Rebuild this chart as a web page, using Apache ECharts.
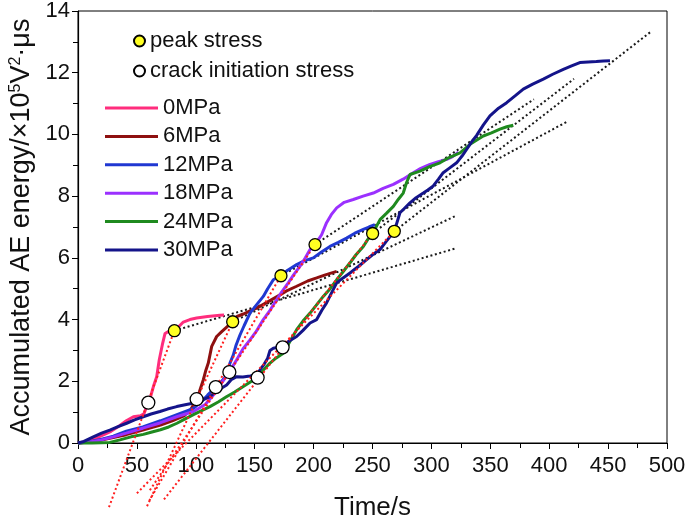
<!DOCTYPE html>
<html>
<head>
<meta charset="utf-8">
<script src="https://cdn.jsdelivr.net/npm/echarts@6/dist/echarts.min.js"></script>
<style>
html,body{margin:0;padding:0;background:#fff;}
#chart{width:685px;height:524px;}
</style>
</head>
<body>
<div id="chart"></div>
<script>
// ---- data (time in s, accumulated AE energy in 1e5 V^2·us) ----
const seriesNames = ['0MPa','6MPa','12MPa','18MPa','24MPa','30MPa'];
const xTicks = [0,50,100,150,200,250,300,350,400,450,500];
const yTicks = [0,2,4,6,8,10,12,14];

const curve0 = [[0,0],[8,0.05],[15,0.15],[22,0.27],[28,0.38],[35,0.55],[41,0.72],[47,0.85],[53,0.88],[56,0.95],[58,1.15],[60,1.33],[62,1.55],[64,1.83],[66.8,2.15],[69,2.7],[71.9,3.24],[73.9,3.55],[76,3.6],[79,3.62],[81.8,3.64],[85,3.75],[89.4,3.92],[95,4.0],[100.7,4.05],[110,4.1],[120.5,4.14],[124,4.15]];
const curve6 = [[0,0],[10,0.03],[20,0.1],[30,0.18],[41,0.27],[55,0.42],[70,0.58],[80,0.72],[90,0.88],[96,1.1],[100.7,1.42],[103,1.65],[106.4,2.05],[108.5,2.35],[110.6,2.59],[113.5,3.13],[117.7,3.45],[122,3.61],[126,3.75],[131.3,3.93],[135,4.1],[140.3,4.18],[146,4.28],[151.7,4.37],[160,4.55],[171.5,4.8],[178,4.95],[185.6,5.08],[195,5.25],[202.6,5.35],[210,5.45],[219.6,5.56]];
const curve12 = [[0,0],[10,0.04],[20,0.12],[30,0.22],[41,0.38],[55,0.52],[70,0.72],[84,0.92],[98,1.12],[105,1.35],[110,1.55],[116.9,1.81],[122,2.0],[126.2,2.2],[129,2.59],[131.8,2.85],[134,3.15],[137.5,3.5],[141,3.8],[146,4.21],[151,4.45],[157.3,4.75],[161,5.0],[165.8,5.29],[172.3,5.42],[178,5.6],[185.6,5.78],[192,5.9],[199.7,6.0],[207,6.2],[213.9,6.37],[221,6.5],[228,6.64],[235,6.8],[242.2,6.92],[247,7.0],[252,7.08]];
const curve18 = [[0,0],[10,0.03],[20,0.1],[30,0.2],[41,0.32],[55,0.48],[69.6,0.65],[83.8,0.85],[98,1.02],[108,1.25],[116,1.6],[122,1.95],[128.5,2.3],[134.7,2.7],[140,3.05],[146,3.34],[151,3.6],[157.3,4.0],[163,4.3],[168.6,4.64],[173,4.9],[178.5,5.19],[183,5.45],[188.5,5.73],[193,6.0],[197,6.27],[201.2,6.43],[206.8,6.75],[211,7.14],[215,7.4],[219.6,7.62],[226,7.8],[233.7,7.89],[242,8.0],[250.7,8.1],[259,8.25],[267.7,8.38],[276,8.55],[284.6,8.76],[291,8.9],[298.8,9.03],[306,9.12],[313,9.19],[318,9.28],[323,9.42]];
const curve24 = [[0,0],[12,0],[27,0.02],[35.6,0.1],[45,0.2],[55.5,0.28],[62,0.35],[70,0.43],[77,0.52],[84,0.64],[91,0.78],[98,0.92],[105,1.05],[112,1.18],[119,1.33],[126,1.5],[133,1.65],[140.3,1.83],[146,1.97],[152.5,2.12],[157,2.35],[163,2.59],[168,2.75],[174.3,2.91],[180,3.3],[185.6,3.67],[191,3.95],[197,4.21],[202,4.45],[208.2,4.75],[214,5.0],[219.6,5.29],[225,5.55],[230.9,5.84],[236,6.1],[242.2,6.37],[246,6.6],[250.1,6.79],[256.4,7.24],[262,7.45],[267.7,7.67],[272,7.9],[276.1,8.1],[279,8.45],[281.8,8.7],[290.3,8.81],[298,8.95],[307.3,9.08],[315,9.25],[324.3,9.4],[332.8,9.68],[344,9.95],[351,10.05],[358.2,10.17],[364,10.25],[369.5,10.3]];
const curve30 = [[0,0],[5,0.05],[13,0.2],[20,0.32],[27,0.42],[34,0.53],[41.3,0.64],[48,0.75],[55.4,0.85],[62,0.94],[69.6,1.02],[76,1.1],[83.8,1.18],[92,1.25],[100.7,1.31],[106,1.4],[112,1.5],[118,1.7],[122,1.78],[126.2,1.88],[130,2.05],[134.7,2.15],[140,2.14],[146,2.17],[151.7,2.2],[155,2.4],[158,2.55],[161,2.75],[163,3.0],[165.8,3.07],[170,3.1],[173.7,3.12],[179,3.3],[185.6,3.45],[191,3.65],[197,3.89],[202.6,4.0],[207,4.3],[211,4.54],[215,4.85],[219.6,5.19],[225,5.35],[230.9,5.51],[238,5.72],[245,5.94],[250,6.1],[256.4,6.27],[262,6.55],[268.5,6.86],[273.3,7.46],[277,7.6],[281.8,7.78],[287,7.95],[293.1,8.1],[297,8.2],[301.6,8.33],[306,8.55],[310,8.76],[315,8.9],[321.4,9.08],[326,9.3],[330,9.52],[334,9.75],[338.4,9.97],[344,10.3],[349.7,10.6],[357,10.85],[363.9,11.03],[371,11.25],[378,11.47],[386,11.63],[395,11.79],[403,11.95],[412,12.11],[419,12.22],[426,12.33],[433,12.35],[440,12.36],[446,12.38],[451.6,12.39]];

const peakPoints  = [[81.8,3.64],[131.3,3.93],[172.3,5.42],[201.2,6.43],[250.1,6.79],[268.5,6.86]];
const crackPoints = [[59.7,1.31],[100.7,1.42],[116.9,1.81],[128.5,2.30],[152.5,2.12],[173.7,3.10]];
// red dotted pre-peak fits: start point (below axis) -> peak
const redStart  = [[26.3,-2.08],[58.6,-2.05],[60.5,-1.87],[61,-1.53],[73,-1.83],[50,-1.63]];
// black dotted post-peak fits: peak -> end point
const blackEnd  = [[320,6.3],[320,7.35],[415,10.41],[387,11.14],[421,11.8],[487,13.35]];

// ---- styles ----
const curves = [curve0,curve6,curve12,curve18,curve24,curve30];
const colors = ['#ff2d7d','#8e1010','#2038d2','#9b30ff','#1f8a1f','#14148a'];
const FONT = 'Liberation Sans, Arial, sans-serif';

const series = [];
for (let i=0;i<6;i++){
  series.push({
    name:'fitB'+i, type:'line', data:[peakPoints[i], blackEnd[i]],
    symbol:'none', silent:true, z:3, clip:false,
    lineStyle:{color:'#1a1a1a', width:2, type:[2,2.6]}
  });
}
for (let i=0;i<6;i++){
  series.push({
    name:seriesNames[i], type:'line', data:curves[i],
    symbol:'none', z:4, clip:false,
    lineStyle:{color:colors[i], width:3},
    itemStyle:{color:colors[i]}
  });
}
for (let i=0;i<6;i++){
  series.push({
    name:'fitR'+i, type:'line', data:[redStart[i], peakPoints[i]],
    symbol:'none', silent:true, z:5, clip:false,
    lineStyle:{color:'#ff1e1e', width:2, type:[2,2.6]}
  });
}
series.push({
  name:'peak stress', type:'scatter', data:peakPoints, symbol:'circle', symbolSize:12, z:6,
  itemStyle:{color:'#ffff22', borderColor:'#000', borderWidth:1.3, opacity:1}
});
series.push({
  name:'crack initiation stress', type:'scatter', data:crackPoints, symbol:'circle', symbolSize:13, z:6,
  itemStyle:{color:'#ffffff', borderColor:'#000', borderWidth:1.3, opacity:1}
});

const chart = echarts.init(document.getElementById('chart'), null, {renderer:'canvas'});
chart.setOption({
  animation:false,
  backgroundColor:'#fff',
  textStyle:{fontFamily:FONT},
  grid:{left:78, right:18, top:11, bottom:81, show:true, borderColor:'#000', borderWidth:1,
        containLabel:false, outerBoundsMode:'none'},
  legend:[
    {
      data:['peak stress','crack initiation stress'], orient:'vertical', left:133, top:30,
      padding:0, itemWidth:11, itemHeight:11, itemGap:8, selectedMode:false,
      textStyle:{fontSize:22, lineHeight:22, color:'#111', fontFamily:FONT}
    },
    {
      data:seriesNames, orient:'vertical', left:105, top:97,
      padding:0, icon:'rect', itemWidth:53, itemHeight:3, itemGap:6.4, selectedMode:false,
      textStyle:{fontSize:22, lineHeight:22, color:'#111', fontFamily:FONT}
    }
  ],
  xAxis:{
    type:'value', min:xTicks[0], max:xTicks[xTicks.length-1], interval:50,
    name:'Time/s', nameLocation:'middle', nameGap:52,
    nameTextStyle:{fontSize:26, color:'#111', fontFamily:FONT},
    axisLine:{show:true, onZero:false, lineStyle:{color:'#000', width:1.2}},
    axisTick:{show:true, length:6, lineStyle:{color:'#000'}},
    minorTick:{show:true, splitNumber:2, length:5, lineStyle:{color:'#000'}},
    splitLine:{show:false},
    axisLabel:{fontSize:22, color:'#111', margin:12, fontFamily:FONT}
  },
  yAxis:{
    type:'value', min:yTicks[0], max:yTicks[yTicks.length-1], interval:2,
    name:'{a|Accumulated AE energy/×10}{s|5}{a|V}{s|2}{a|·μs}',
    nameLocation:'middle', nameGap:34, nameRotate:90,
    nameTextStyle:{
      color:'#111', fontFamily:FONT,
      rich:{
        a:{fontSize:27, color:'#111', fontFamily:FONT, verticalAlign:'bottom'},
        s:{fontSize:16, color:'#111', fontFamily:FONT, verticalAlign:'top', padding:[0,0,10,0]}
      }
    },
    axisLine:{show:true, lineStyle:{color:'#000', width:1.2}},
    axisTick:{show:true, length:6, lineStyle:{color:'#000'}},
    minorTick:{show:true, splitNumber:2, length:5, lineStyle:{color:'#000'}},
    splitLine:{show:false},
    axisLabel:{fontSize:22, color:'#111', margin:8, fontFamily:FONT}
  },
  series:series
});
</script>
</body>
</html>
